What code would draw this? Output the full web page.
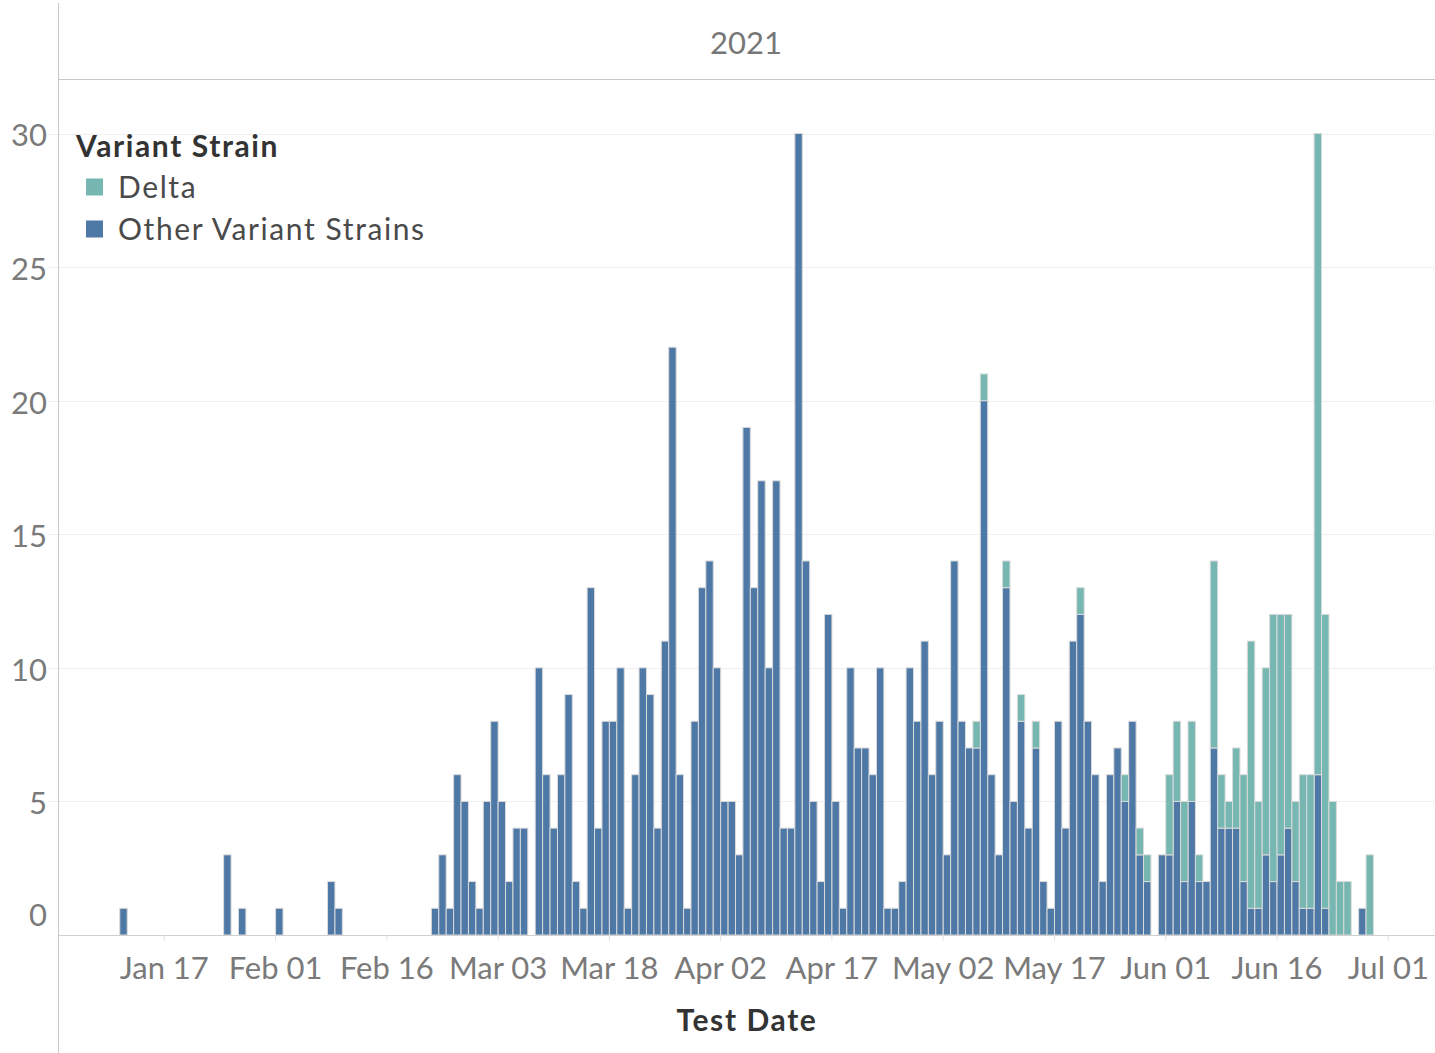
<!DOCTYPE html>
<html>
<head>
<meta charset="utf-8">
<script src="https://cdn.jsdelivr.net/npm/d3@7"></script>
<style>
  body { margin: 0; background: #fff; }
  text { font-family: Lato, sans-serif; }
</style>
</head>
<body>
<div id="chart"></div>
<script>
// test dates (2021, month-day) that have at least one sequenced case
let days = [
  '01-11', '01-25', '01-27', '02-01', '02-08', '02-09',
  '02-22', '02-23', '02-24', '02-25', '02-26', '02-27', '02-28',
  '03-01', '03-02', '03-03', '03-04', '03-05', '03-06', '03-08', '03-09', '03-10',
  '03-11', '03-12', '03-13', '03-14', '03-15', '03-16', '03-17', '03-18', '03-19', '03-20',
  '03-21', '03-22', '03-23', '03-24', '03-25', '03-26', '03-27', '03-28', '03-29', '03-30', '03-31',
  '04-01', '04-02', '04-03', '04-04', '04-05', '04-06', '04-07', '04-08', '04-09', '04-10',
  '04-11', '04-12', '04-13', '04-14', '04-15', '04-16', '04-17', '04-18', '04-19', '04-20',
  '04-21', '04-22', '04-23', '04-24', '04-25', '04-26', '04-27', '04-28', '04-29', '04-30',
  '05-01', '05-02', '05-03', '05-04', '05-05', '05-06', '05-07', '05-08', '05-09', '05-10',
  '05-11', '05-12', '05-13', '05-14', '05-15', '05-16', '05-17', '05-18', '05-19', '05-20',
  '05-21', '05-22', '05-23', '05-24', '05-25', '05-26', '05-27', '05-28', '05-29', '05-31',
  '06-01', '06-02', '06-03', '06-04', '06-05', '06-06', '06-07', '06-08', '06-09', '06-10',
  '06-11', '06-12', '06-13', '06-14', '06-15', '06-16', '06-17', '06-18', '06-19', '06-20',
  '06-21', '06-22', '06-23', '06-24', '06-25', '06-27', '06-28'
]

let other = [
  1, 3, 1, 1, 2, 1,
  1, 3, 1, 6, 5, 2, 1,
  5, 8, 5, 2, 4, 4, 10, 6, 4,
  6, 9, 2, 1, 13, 4, 8, 8, 10, 1,
  6, 10, 9, 4, 11, 22, 6, 1, 8, 13, 14,
  10, 5, 5, 3, 19, 13, 17, 10, 17, 4,
  4, 30, 14, 5, 2, 12, 5, 1, 10, 7,
  7, 6, 10, 1, 1, 2, 10, 8, 11, 6,
  8, 3, 14, 8, 7, 7, 20, 6, 3, 13,
  5, 8, 4, 7, 2, 1, 8, 4, 11, 12,
  8, 6, 2, 6, 7, 5, 8, 3, 2, 3,
  3, 5, 2, 5, 2, 2, 7, 4, 4, 4,
  2, 1, 1, 3, 2, 3, 4, 2, 1, 1,
  6, 1, 0, 0, 0, 1, 0
]

let delta = [
  0, 0, 0, 0, 0, 0,
  0, 0, 0, 0, 0, 0, 0,
  0, 0, 0, 0, 0, 0, 0, 0, 0,
  0, 0, 0, 0, 0, 0, 0, 0, 0, 0,
  0, 0, 0, 0, 0, 0, 0, 0, 0, 0, 0,
  0, 0, 0, 0, 0, 0, 0, 0, 0, 0,
  0, 0, 0, 0, 0, 0, 0, 0, 0, 0,
  0, 0, 0, 0, 0, 0, 0, 0, 0, 0,
  0, 0, 0, 0, 0, 1, 1, 0, 0, 1,
  0, 1, 0, 1, 0, 0, 0, 0, 0, 1,
  0, 0, 0, 0, 0, 1, 0, 1, 1, 0,
  3, 3, 3, 3, 1, 0, 7, 2, 1, 3,
  4, 10, 4, 7, 10, 9, 8, 3, 5, 5,
  24, 11, 5, 2, 2, 0, 3
]

let yTicks = [0, 5, 10, 15, 20, 25, 30]
let xTicks = ['01-17', '02-01', '02-16', '03-03', '03-18', '04-02', '04-17',
  '05-02', '05-17', '06-01', '06-16', '07-01']
let keys = ['other', 'delta']
let legendKeys = ['delta', 'other']
let labels = { delta: 'Delta', other: 'Other Variant Strains' }
let colors = { delta: '#76b7b2', other: '#4e79a7' }

let width = 1435
let height = 1053
let left = 58
let baseline = 935

let parse = d3.utcParse('%Y-%m-%d')
let toDate = s => parse('2021-' + s)

let svg = d3
  .select('#chart')
  .append('svg')
  .attr('width', width)
  .attr('height', height)

let x = d3
  .scaleUtc()
  .domain([toDate('01-17'), toDate('07-01')])
  .range([164.3, 1388.3])

let y = d3
  .scaleLinear()
  .domain([0, 30])
  .range([baseline, 133.5])

// header pane
svg.append('line')
  .attr('x1', left).attr('x2', width)
  .attr('y1', 79.5).attr('y2', 79.5)
  .attr('stroke', '#c8c8c8')

svg.append('text')
  .attr('x', 746).attr('y', 43)
  .attr('dy', '0.35em')
  .attr('text-anchor', 'middle')
  .attr('fill', '#777')
  .style('font-size', '31px')
  .text('2021')

// gridlines + y labels
svg.selectAll('.grid')
  .data(yTicks.filter(d => d > 0))
  .enter()
  .append('line')
  .attr('class', 'grid')
  .attr('x1', left - 9).attr('x2', width)
  .attr('y1', d => Math.round(y(d)) + 0.5)
  .attr('y2', d => Math.round(y(d)) + 0.5)
  .attr('stroke', '#efefef')

svg.selectAll('.ylab')
  .data(yTicks)
  .enter()
  .append('text')
  .attr('class', 'ylab')
  .attr('x', 47)
  .attr('y', d => d === 0 ? y(d) - 20 : y(d) + 2)
  .attr('dy', '0.35em')
  .attr('text-anchor', 'end')
  .attr('fill', '#7a7a7a')
  .style('font-size', '31px')
  .text(d => d)

// bars
let data = days.map((d, i) => ({ date: toDate(d), other: other[i], delta: delta[i] }))
let stacked = d3.stack().keys(keys)(data)

svg.append('g')
  .selectAll('g')
  .data(stacked)
  .enter()
  .append('g')
  .attr('fill', s => colors[s.key])
  .selectAll('rect')
  .data(s => s.filter(p => p[1] > p[0]))
  .enter()
  .append('rect')
  .attr('x', p => x(p.data.date))
  .attr('width', p => x(d3.utcDay.offset(p.data.date, 1)) - x(p.data.date))
  .attr('y', p => y(p[1]))
  .attr('height', p => y(p[0]) - y(p[1]))
  .attr('stroke', '#dadada')
  .attr('stroke-width', 1)

// x axis line and ticks
svg.append('line')
  .attr('x1', left).attr('x2', width)
  .attr('y1', baseline + 0.5).attr('y2', baseline + 0.5)
  .attr('stroke', '#cfcfcf')

svg.selectAll('.xtick')
  .data(xTicks)
  .enter()
  .append('line')
  .attr('class', 'xtick')
  .attr('x1', d => x(toDate(d))).attr('x2', d => x(toDate(d)))
  .attr('y1', baseline).attr('y2', baseline + 6)
  .attr('stroke', '#e2e2e2')

let fmt = d3.utcFormat('%b %d')
svg.selectAll('.xlab')
  .data(xTicks)
  .enter()
  .append('text')
  .attr('class', 'xlab')
  .attr('x', d => x(toDate(d)))
  .attr('y', 968)
  .attr('dy', '0.35em')
  .attr('text-anchor', 'middle')
  .attr('fill', '#7a7a7a')
  .style('font-size', '31px')
  .text(d => fmt(toDate(d)))

svg.append('text')
  .attr('x', 747).attr('y', 1020)
  .attr('dy', '0.35em')
  .attr('text-anchor', 'middle')
  .attr('fill', '#333')
  .style('font-size', '30px')
  .style('font-weight', 'bold')
  .style('letter-spacing', '1.6px')
  .text('Test Date')

// left pane border
svg.append('line')
  .attr('x1', left + 0.5).attr('x2', left + 0.5)
  .attr('y1', 3).attr('y2', height)
  .attr('stroke', '#c8c8c8')

// legend
let legend = svg.append('g').attr('transform', 'translate(76,146)')

legend.append('text')
  .attr('dy', '0.35em')
  .attr('fill', '#333')
  .style('font-size', '30px')
  .style('font-weight', 'bold')
  .style('letter-spacing', '1.6px')
  .text('Variant Strain')

let items = legend.selectAll('.item')
  .data(legendKeys)
  .enter()
  .append('g')
  .attr('class', 'item')
  .attr('transform', (d, i) => 'translate(0,' + (41 + i * 42) + ')')

items.append('rect')
  .attr('x', 10).attr('y', -8.5)
  .attr('width', 17).attr('height', 17)
  .attr('fill', d => colors[d])

items.append('text')
  .attr('x', 42)
  .attr('dy', '0.35em')
  .attr('fill', '#4a4a4a')
  .style('font-size', '30px')
  .style('letter-spacing', '1.6px')
  .text(d => labels[d])
</script>
</body>
</html>
